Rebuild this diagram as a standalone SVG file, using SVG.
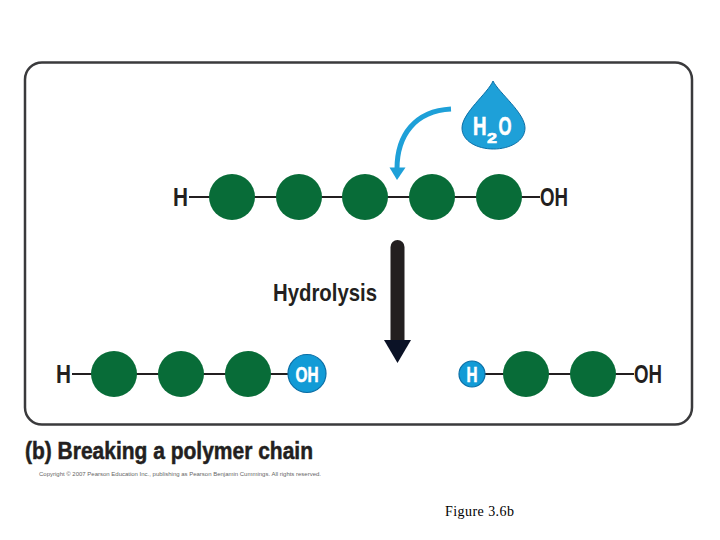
<svg xmlns="http://www.w3.org/2000/svg" width="720" height="540" viewBox="0 0 720 540">
<style>
.lab{font-family:"Liberation Sans",Arial,sans-serif;font-weight:bold;fill:#231f20}
.big{font-size:25px}
.wh{font-family:"Liberation Sans",Arial,sans-serif;font-weight:bold;fill:#fff;stroke:#fff;stroke-width:.6}
.bond{stroke:#231f20;stroke-width:2;fill:none}
.mono{fill:#086c38}
.blue{fill:#129bd6;stroke:#0b6fa6;stroke-width:1.2}
</style>
<rect width="720" height="540" fill="#fff"/>
<rect id="frame" x="25" y="62.500" width="667" height="362" rx="17" fill="#fff" stroke="#3a3a3c" stroke-width="2.500"/>
<g id="connectors">
<path class="bond" d="M189 197H540"/>
<path class="bond" d="M72 374H300"/>
<path class="bond" d="M480 374H634"/>
<path d="M451 109C415 111 397 135 397 169" fill="none" stroke="#1ea0d8" stroke-width="5"/>
<path d="M389.500 167.500H405.500L397 180Z" fill="#1ea0d8"/>
<path d="M397.500 247V345" stroke="#231f20" stroke-width="14" stroke-linecap="round" fill="none"/>
<path d="M384 340H411L397.500 363Z" fill="#0b1226"/>
</g>
<g id="water">
<path d="M493 81C499 93 525 113 525 128C525 141 510 149 493.500 149C477 149 462 141 462 128C462 113 488 93 493 81Z" fill="#1ea0d8" stroke="#0b6fa6" stroke-width="1"/>
<text class="wh" x="473" y="135" font-size="25" textLength="13.500" lengthAdjust="spacingAndGlyphs">H</text>
<text class="wh" x="487" y="143" font-size="15" textLength="10" lengthAdjust="spacingAndGlyphs">2</text>
<text class="wh" x="498.500" y="135" font-size="25" textLength="13" lengthAdjust="spacingAndGlyphs">O</text>
</g>
<g id="top-chain">
<text class="lab big" x="173" y="206" textLength="15" lengthAdjust="spacingAndGlyphs">H</text>
<circle class="mono" cx="232" cy="197" r="23"/>
<circle class="mono" cx="299" cy="197" r="23"/>
<circle class="mono" cx="365" cy="197" r="23"/>
<circle class="mono" cx="432" cy="197" r="23"/>
<circle class="mono" cx="499" cy="197" r="23"/>
<text class="lab big" x="540" y="206" textLength="28" lengthAdjust="spacingAndGlyphs">OH</text>
</g>
<g id="hydrolysis">
<text class="lab" x="273" y="301" font-size="24" textLength="104" lengthAdjust="spacingAndGlyphs">Hydrolysis</text>
</g>
<g id="left-chain">
<text class="lab big" x="56" y="383" textLength="15" lengthAdjust="spacingAndGlyphs">H</text>
<circle class="mono" cx="114" cy="374" r="23"/>
<circle class="mono" cx="181" cy="374" r="23"/>
<circle class="mono" cx="248" cy="374" r="23"/>
<circle class="blue" cx="307" cy="373.500" r="19"/>
<text class="wh" x="295.500" y="381.500" font-size="22" textLength="23" lengthAdjust="spacingAndGlyphs">OH</text>
</g>
<g id="right-chain">
<circle class="blue" cx="472" cy="374" r="13"/>
<text class="wh" x="466.500" y="381.500" font-size="22" textLength="11" lengthAdjust="spacingAndGlyphs">H</text>
<circle class="mono" cx="526" cy="374" r="23"/>
<circle class="mono" cx="593" cy="374" r="23"/>
<text class="lab big" x="634" y="383" textLength="28" lengthAdjust="spacingAndGlyphs">OH</text>
</g>
<text class="lab" x="25" y="459" font-size="23" stroke="#231f20" stroke-width="0.5" textLength="288" lengthAdjust="spacingAndGlyphs">(b) Breaking a polymer chain</text>
<text x="39" y="476" font-family="Liberation Sans,Arial,sans-serif" font-size="6" fill="#666" textLength="282" lengthAdjust="spacingAndGlyphs">Copyright © 2007 Pearson Education Inc., publishing as Pearson Benjamin Cummings. All rights reserved.</text>
<text x="445" y="516" font-family="Liberation Serif,Times New Roman,serif" font-size="14" fill="#000" textLength="69">Figure 3.6b</text>
</svg>
